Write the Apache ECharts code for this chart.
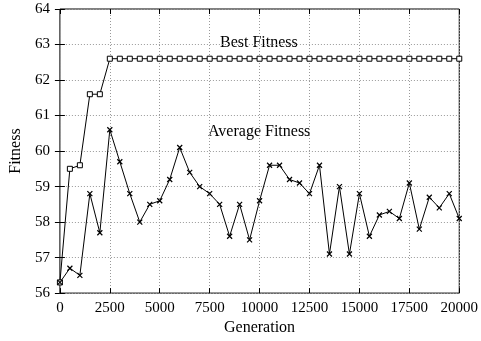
<!DOCTYPE html>
<html>
<head>
<meta charset="utf-8">
<script src="https://cdn.jsdelivr.net/npm/echarts@6/dist/echarts.min.js"></script>
<style>
  html, body { margin: 0; padding: 0; background: #fff; }
  #chart { width: 481px; height: 341px; }
</style>
</head>
<body>
<div id="chart"></div>
<script>
// Generations sampled every 500
const generations = [0, 500, 1000, 1500, 2000, 2500, 3000, 3500, 4000, 4500, 5000,
  5500, 6000, 6500, 7000, 7500, 8000, 8500, 9000, 9500, 10000,
  10500, 11000, 11500, 12000, 12500, 13000, 13500, 14000, 14500, 15000,
  15500, 16000, 16500, 17000, 17500, 18000, 18500, 19000, 19500, 20000];

const bestFitness = [56.3, 59.5, 59.6, 61.6, 61.6, 62.6, 62.6, 62.6, 62.6, 62.6, 62.6,
  62.6, 62.6, 62.6, 62.6, 62.6, 62.6, 62.6, 62.6, 62.6, 62.6,
  62.6, 62.6, 62.6, 62.6, 62.6, 62.6, 62.6, 62.6, 62.6, 62.6,
  62.6, 62.6, 62.6, 62.6, 62.6, 62.6, 62.6, 62.6, 62.6, 62.6];

const averageFitness = [56.3, 56.7, 56.5, 58.8, 57.7, 60.6, 59.7, 58.8, 58.0, 58.5, 58.6,
  59.2, 60.1, 59.4, 59.0, 58.8, 58.5, 57.6, 58.5, 57.5, 58.6,
  59.6, 59.6, 59.2, 59.1, 58.8, 59.6, 57.1, 59.0, 57.1, 58.8,
  57.6, 58.2, 58.3, 58.1, 59.1, 57.8, 58.7, 58.4, 58.8, 58.1];

const seriesNames = ['Best Fitness', 'Average Fitness'];
const xTicks = { min: 0, max: 20000, step: 2500 };
const yTicks = { min: 56, max: 64, step: 1 };

const FONT = 'Liberation Serif';
const pair = (xs, ys) => xs.map((x, i) => [x, ys[i]]);

const gridStyle = { show: true, lineStyle: { color: '#999', type: [1, 2], width: 1 } };
const tickStyle = { show: true, inside: true, length: 5, lineStyle: { color: '#000' } };

const chart = echarts.init(document.getElementById('chart'), null, { renderer: 'canvas' });
chart.setOption({
  animation: false,
  backgroundColor: '#fff',
  grid: { left: 55, right: 18, top: 9, bottom: 47, show: true, borderColor: '#000', borderWidth: 1, backgroundColor: 'transparent' },
  xAxis: [{
    type: 'value', min: xTicks.min, max: xTicks.max, interval: xTicks.step,
    name: 'Generation', nameLocation: 'middle', nameGap: 26,
    nameTextStyle: { fontFamily: FONT, fontSize: 16, color: '#000' },
    axisLine: { show: false },
    axisTick: tickStyle,
    axisLabel: { fontFamily: FONT, fontSize: 15, color: '#000', margin: 7, formatter: v => String(v) },
    splitLine: gridStyle
  }, {
    type: 'value', position: 'top', min: xTicks.min, max: xTicks.max, interval: xTicks.step,
    axisLine: { show: false }, axisTick: tickStyle, axisLabel: { show: false }, splitLine: { show: false }
  }],
  yAxis: [{
    type: 'value', min: yTicks.min, max: yTicks.max, interval: yTicks.step,
    name: 'Fitness', nameLocation: 'middle', nameGap: 34, nameRotate: 90,
    nameTextStyle: { fontFamily: FONT, fontSize: 16, color: '#000' },
    axisLine: { show: false },
    axisTick: tickStyle,
    axisLabel: { fontFamily: FONT, fontSize: 15, color: '#000', margin: 10 },
    splitLine: gridStyle
  }, {
    type: 'value', position: 'right', min: yTicks.min, max: yTicks.max, interval: yTicks.step,
    axisLine: { show: false }, axisTick: tickStyle, axisLabel: { show: false }, splitLine: { show: false }
  }],
  series: [{
    name: seriesNames[0], type: 'line', data: pair(generations, bestFitness),
    symbol: 'rect', symbolSize: 5, showAllSymbol: true,
    lineStyle: { color: '#000', width: 1 },
    itemStyle: { color: '#fff', borderColor: '#000', borderWidth: 1 },
    z: 3
  }, {
    name: seriesNames[1], type: 'line', data: pair(generations, averageFitness),
    symbol: 'path://M0,0L10,10M10,0L0,10', symbolSize: 5, showAllSymbol: true,
    lineStyle: { color: '#000', width: 1 },
    itemStyle: { color: '#000', borderColor: '#000', borderWidth: 1.2 },
    z: 3
  }],
  graphic: [{
    type: 'text', left: 220, top: 35,
    style: { text: seriesNames[0], font: '16px "Liberation Serif"', fill: '#000' }
  }, {
    type: 'text', left: 208, top: 124,
    style: { text: seriesNames[1], font: '16px "Liberation Serif"', fill: '#000' }
  }]
});
</script>
</body>
</html>
